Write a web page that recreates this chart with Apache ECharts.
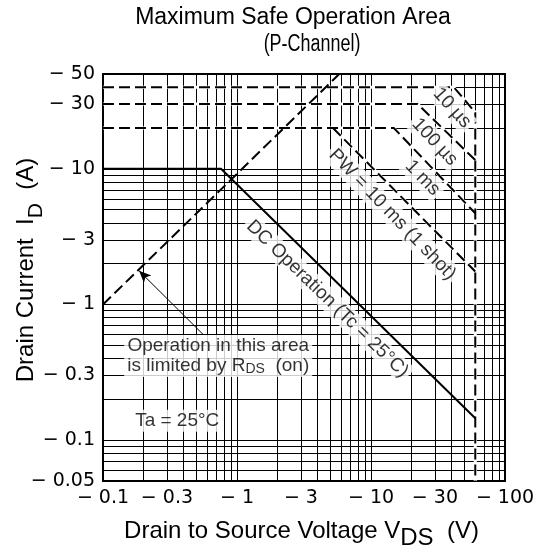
<!DOCTYPE html>
<html>
<head>
<meta charset="utf-8">
<script src="https://cdn.jsdelivr.net/npm/echarts@6/dist/echarts.min.js"></script>
<style>
  html, body { margin: 0; padding: 0; background: #fff; }
  #chart { width: 533px; height: 548px; }
</style>
</head>
<body>
<div id="chart"></div>
<script>
// Axis tick labels (absolute values, shown with a leading minus sign)
const xTickLabels = [0.1, 0.3, 1, 3, 10, 30, 100];
const yTickLabels = [0.05, 0.1, 0.3, 1, 3, 10, 30, 50];

// Logarithmic grid rulings
const xGridValues = [0.2, 0.3, 0.4, 0.5, 0.6, 0.7, 0.8, 0.9, 1, 2, 3, 4, 5, 6, 7, 8, 9, 10,
                     20, 30, 40, 50, 60, 70, 80, 90];
const yGridValues = [0.06, 0.07, 0.08, 0.09, 0.1, 0.2, 0.3, 0.4, 0.5, 0.6, 0.7, 0.8, 0.9,
                     1, 2, 3, 4, 5, 6, 7, 8, 9, 10, 20, 30, 40];

// SOA boundaries: [|VDS| (V), |ID| (A)]
const dcOperation = [[0.1, 10], [0.76, 10], [60, 0.145]];
const rdsOnLimit  = [[0.1, 1], [5.8, 50]];
const pw10us      = [[0.1, 40], [41.5, 40], [60, 26], [60, 0.05]];
const pw100us     = [[0.1, 30], [22.3, 30], [60, 11.6]];
const pw1ms       = [[0.1, 20], [14.8, 20], [60, 4.7]];
const pw10ms      = [[5.2, 20], [60, 1.75]];

// Arrow pointing at the RDS(on) limit
const rdsArrow = [[0.56, 0.6], [0.186, 1.77]];

// Annotation texts and their anchor points in data space
const annotationTexts = [
  'DC Operation (Tc = 25°C)',
  'PW = 10 ms (1 shot)',
  '1 ms',
  '100 µs',
  '10 µs',
  'Operation in this area\nis limited by R{sub|DS}  (on)',
  'Ta = 25°C'
];
const annotationAnchors = [
  [4.73, 1.10], [14.4, 4.6], [24.3, 8.56], [29.9, 15.8], [40.2, 28.1],
  [0.724, 0.418], [0.358, 0.139]
];
const annotationAngles = [-44, -46, -46, -47, -48, 0, 0];

const FONT = '"Liberation Sans", Arial, Helvetica, sans-serif';
const TICK_FONT = '"DejaVu Sans", sans-serif';
const DASH = [11, 5];

const chart = echarts.init(document.getElementById('chart'), null, { renderer: 'canvas' });

function boundary(name, data, style, z) {
  return {
    name: name, type: 'line', data: data, symbol: 'none', showSymbol: false,
    silent: true, animation: false, z: z,
    lineStyle: style
  };
}

// rich styles for a baseline text run and a lowered subscript run
function subscriptRich(mainSize, subSize, drop) {
  return {
    m: { fontFamily: FONT, fontSize: mainSize, color: '#000', padding: [0, 0, drop, 0] },
    s: { fontFamily: FONT, fontSize: subSize, color: '#000', padding: [drop, 0, 0, 0] }
  };
}

const series = [];

// white knock-out under the dashed pulse limits
[pw10us, pw100us, pw1ms, pw10ms].forEach((d, i) => {
  series.push(boundary('under' + i, d, { color: '#fff', width: 3, type: 'solid' }, 2));
});

series.push(boundary('10 µs', pw10us, { color: '#000', width: 2, type: DASH }, 3));
series.push(boundary('100 µs', pw100us, { color: '#000', width: 2, type: DASH }, 3));
series.push(boundary('1 ms', pw1ms, { color: '#000', width: 2, type: DASH }, 3));
series.push(boundary('10 ms', pw10ms, { color: '#000', width: 2, type: DASH }, 3));
series.push(boundary('RDS(on)', rdsOnLimit, { color: '#000', width: 2, type: DASH }, 3));
series.push(boundary('DC', dcOperation, { color: '#000', width: 2, type: 'solid' }, 3));

// arrow
series.push({
  name: 'arrow', type: 'line', data: [], silent: true, z: 4, animation: false,
  markLine: {
    silent: true, animation: false,
    symbol: ['none', 'arrow'], symbolSize: [8, 12],
    label: { show: false },
    emphasis: { disabled: true },
    lineStyle: { color: '#000', width: 1, type: 'solid' },
    data: [[{ coord: rdsArrow[0] }, { coord: rdsArrow[1] }]]
  }
});

// annotation labels
series.push({
  name: 'notes', type: 'scatter', silent: true, z: 5, animation: false,
  symbolSize: 1, itemStyle: { color: 'rgba(0,0,0,0)' },
  data: annotationTexts.map((t, i) => ({
    value: annotationAnchors[i],
    label: {
      show: true, position: 'inside', formatter: t, rotate: annotationAngles[i],
      color: '#000', fontFamily: FONT, fontSize: 19, lineHeight: 20,
      backgroundColor: '#fff', padding: [1, 3, 1, 3],
      align: 'center', verticalAlign: 'middle',
      rich: {
        sub: { fontFamily: FONT, fontSize: 14, lineHeight: 10, verticalAlign: 'bottom', color: '#000' }
      }
    }
  }))
});

const gridLine = { show: true, lineStyle: { color: '#000', width: 1, type: 'solid' } };

const option = {
  backgroundColor: '#fff',
  animation: false,
  grid: {
    left: 103, right: 28, top: 74, bottom: 67,
    outerBoundsMode: 'none', containLabel: false,
    show: true, borderColor: '#000', borderWidth: 2, backgroundColor: 'transparent'
  },
  xAxis: {
    type: 'log', logBase: 10, min: 0.1, max: 100,
    name: '{m|Drain to Source Voltage V}{s|DS}{m|  (V)}',
    nameLocation: 'middle', nameGap: 38, nameMoveOverlap: false,
    nameTextStyle: { padding: [0, 5, 0, 0], rich: subscriptRich(24, 24, 7) },
    axisLine: { show: false },
    axisTick: { show: false, customValues: xGridValues },
    splitLine: gridLine,
    axisLabel: {
      customValues: xTickLabels,
      formatter: v => '\u2212 ' + v,
      fontFamily: TICK_FONT, fontSize: 19, color: '#000', margin: 8
    }
  },
  yAxis: {
    type: 'log', logBase: 10, min: 0.05, max: 50,
    name: '{m|Drain Current  I}{s|D}{m|  (A)}',
    nameLocation: 'middle', nameRotate: 90, nameGap: 55, nameMoveOverlap: false,
    nameTextStyle: { padding: [0, 0, 0, 15], rich: subscriptRich(24, 21, 10) },
    axisLine: { show: false },
    axisTick: { show: false, customValues: yGridValues },
    splitLine: gridLine,
    axisLabel: {
      customValues: yTickLabels,
      formatter: v => '\u2212 ' + v,
      fontFamily: TICK_FONT, fontSize: 19, color: '#000', margin: 8
    }
  },
  graphic: [
    { type: 'text', x: 293, y: 18, silent: true,
      style: { text: 'Maximum Safe Operation Area', fontFamily: FONT, fontSize: 23, fill: '#000', align: 'center', verticalAlign: 'middle' } },
    { type: 'text', x: 312, y: 45, scaleX: 0.78, silent: true,
      style: { text: '(P-Channel)', fontFamily: FONT, fontSize: 23, fill: '#000', align: 'center', verticalAlign: 'middle' } }
  ],
  series: series
};

chart.setOption(option);
</script>
</body>
</html>
